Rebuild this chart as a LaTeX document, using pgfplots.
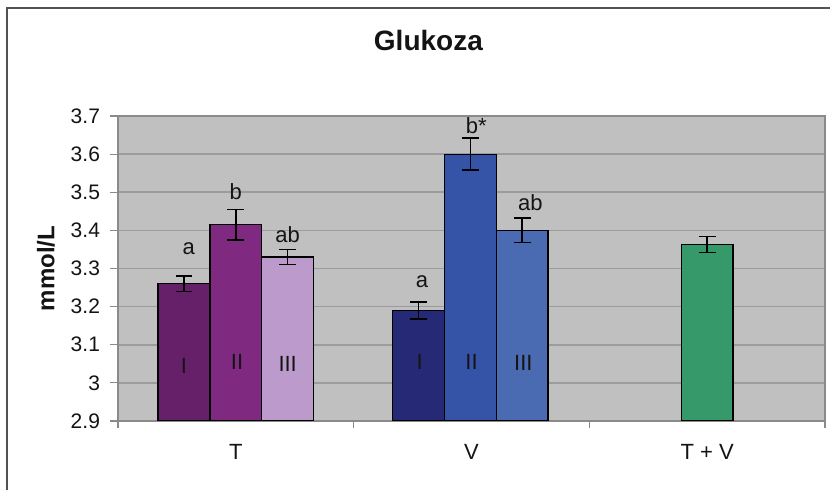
\documentclass[border=0pt]{standalone}
\usepackage{pgfplots}
\pgfplotsset{compat=1.18}
\usepackage{fontspec}
\setmainfont{Liberation Sans}
\definecolor{bgc}{HTML}{C0C0C0}
\definecolor{gridc}{HTML}{9C9C9C}
\definecolor{axc}{HTML}{8A8A8A}
\definecolor{tI}{HTML}{66206A}
\definecolor{tII}{HTML}{7F2A80}
\definecolor{tIII}{HTML}{BC9BCC}
\definecolor{vI}{HTML}{262A76}
\definecolor{vII}{HTML}{3554A8}
\definecolor{vIII}{HTML}{4A6AB2}
\definecolor{tv}{HTML}{35996A}
\definecolor{txt}{HTML}{141414}
\begin{document}
\begin{tikzpicture}
\path[use as bounding box] (0,0) rectangle (415pt,245pt);
\draw[color=black!68, line width=1.3pt] (3.5pt,0) -- (3.5pt,241pt) -- (415pt,241pt);
\node[anchor=base, text=txt, font=\fontsize{14}{16}\selectfont\bfseries] at (214.2pt,219.7pt) {Glukoza};
\begin{axis}[
  at={(59pt,34.5pt)}, anchor=south west,
  scale only axis, width=353.5pt, height=152.5pt,
  xmin=-0.5, xmax=2.5, ymin=2.9, ymax=3.7,
  ytick={2.9,3,3.1,3.2,3.3,3.4,3.5,3.6,3.7},
  yticklabels={2.9,3,3.1,3.2,3.3,3.4,3.5,3.6,3.7},
  xtick={0,1,2}, xticklabels={T,V,T + V},
  minor xtick={-0.5,0.5,1.5,2.5},
  major x tick style={draw=none},
  tick align=outside, major tick length=4pt, minor tick length=3.5pt,
  tick style={color=axc, line width=0.6pt},
  xtick pos=bottom, ytick pos=left,
  axis line style={draw=axc, line width=0.8pt},
  axis background/.style={fill=bgc},
  ymajorgrids, major grid style={draw=gridc, line width=0.8pt},
  ticklabel style={text=txt, font=\fontsize{10.5}{12}\selectfont},
  xticklabel style={font=\fontsize{11}{13}\selectfont, yshift=-4pt},
  yticklabel style={xshift=-1.5pt},
  /pgf/number format/assume math mode=true,
  ylabel={mmol/L},
  ylabel style={at={(axis description cs:-0.1018,0.5)}, anchor=center, text=txt, font=\fontsize{12}{14}\selectfont\bfseries},
  bar width=0.22,
  every axis plot/.append style={ybar, bar shift=0pt, draw=black, line width=0.6pt,
    error bars/y dir=both, error bars/y explicit,
    error bars/error bar style={black, line width=0.7pt},
    error bars/error mark options={rotate=90, black, mark size=4.2pt, line width=0.7pt}},
]
\addplot[fill=tI] coordinates {(-0.22,3.26) +- (0,0.02)};
\addplot[fill=tII] coordinates {(0,3.415) +- (0,0.04)};
\addplot[fill=tIII] coordinates {(0.22,3.33) +- (0,0.02)};
\addplot[fill=vI] coordinates {(0.775,3.19) +- (0,0.022)};
\addplot[fill=vII] coordinates {(0.995,3.60) +- (0,0.042)};
\addplot[fill=vIII] coordinates {(1.215,3.40) +- (0,0.032)};
\addplot[fill=tv] coordinates {(2.0,3.363) +- (0,0.021)};
\begin{scope}[every node/.style={text=txt, font=\fontsize{11}{13}\selectfont, inner sep=0pt}]
\node at (axis cs:-0.2,3.352) {a};
\node at (axis cs:0,3.502) {b};
\node at (axis cs:0.22,3.39) {ab};
\node at (axis cs:0.79,3.265) {a};
\node at (axis cs:1.02,3.675) {b*};
\node at (axis cs:1.25,3.473) {ab};
\node at (axis cs:-0.22,3.045) {I};
\node at (axis cs:0.005,3.056) {II};
\node at (axis cs:0.22,3.05) {III};
\node at (axis cs:0.78,3.056) {I};
\node at (axis cs:1.0,3.056) {II};
\node at (axis cs:1.22,3.053) {III};
\end{scope}
\end{axis}
\end{tikzpicture}
\end{document}
